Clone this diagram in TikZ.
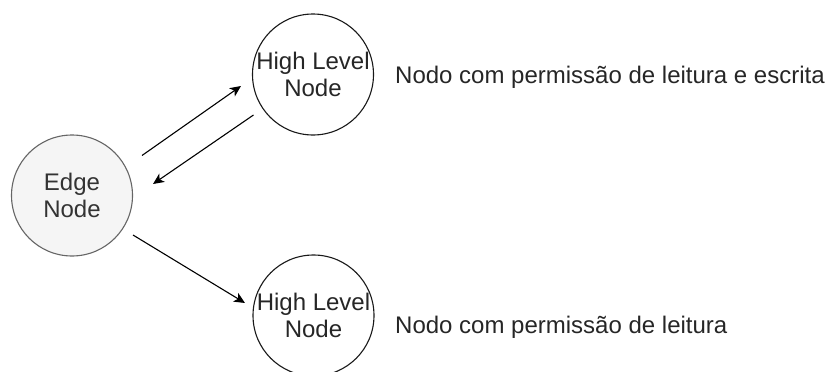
\documentclass[tikz,border=0pt]{standalone}
\usepackage{fontspec}
\setmainfont{Liberation Sans}
\usepackage{tikz}
\usetikzlibrary{arrows.meta}

\tikzset{
  nodo/.style={circle, draw=black!90, fill=white, line width=1.1pt,
    minimum size=121pt, inner sep=-2pt, align=center, text=black!85,
    font=\fontsize{24}{27}\selectfont},
  nodoborda/.style={nodo, draw=black!60, fill=black!4, text=black!80},
  rotulo/.style={anchor=base west, inner sep=0pt, text=black!85,
    font=\fontsize{24}{27}\selectfont},
  seta/.style={-{Stealth[length=11pt,width=10pt,inset=3pt]}, line width=1.1pt}
}

\begin{document}
\begin{tikzpicture}[x=1pt,y=-1pt]
\useasboundingbox (0,0) rectangle (830,372);
% nodos
\node[nodoborda] (edge) at (72,195.5) {Edge\\Node};
\node[nodo] (high1) at (313,74.5) {High Level\\Node};
\node[nodo] (high2) at (313.5,315.5) {High Level\\Node};
% rotulos
\node[rotulo] (txt1) at (395,83) {Nodo com permissão de leitura e escrita};
\node[rotulo] (txt2) at (395,333) {Nodo com permissão de leitura};
% setas
\coordinate (ida1) at (142,155.5);
\coordinate (ida2) at (241,86);
\coordinate (volta1) at (253.5,115);
\coordinate (volta2) at (153,184);
\coordinate (baixo1) at (133,235);
\coordinate (baixo2) at (245,303);
\draw[seta] (ida1) -- (ida2);
\draw[seta] (volta1) -- (volta2);
\draw[seta] (baixo1) -- (baixo2);
\end{tikzpicture}
\end{document}
